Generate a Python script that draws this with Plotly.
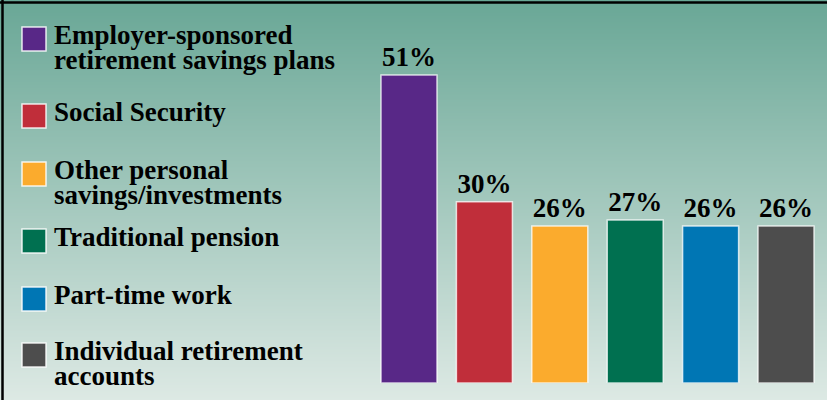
import plotly.graph_objects as go

# ---- data ----
categories = [
    "Employer-sponsored retirement savings plans",
    "Social Security",
    "Other personal savings/investments",
    "Traditional pension",
    "Part-time work",
    "Individual retirement accounts",
]
legend_lines = [
    ["Employer-sponsored", "retirement savings plans"],
    ["Social Security"],
    ["Other personal", "savings/investments"],
    ["Traditional pension"],
    ["Part-time work"],
    ["Individual retirement", "accounts"],
]
values = [51, 30, 26, 27, 26, 26]

# ---- style ----
colors = ["#582887", "#c02e3a", "#fbab2d", "#007050", "#0076b4", "#4d4d4d"]
W, H = 827, 400
FONT = "Liberation Serif"
FS = 27
legend_square_tops_px = [27, 104, 162, 229, 287, 343]
LINE_GAP = 25
SQ = 24


def px_x(x):
    return x / W


def px_y(y):
    return 1 - y / H


fig = go.Figure()

# background gradient (base subplot, drawn first)
fig.add_trace(go.Heatmap(
    x=[0, 1], y=[0, 1], z=[[0, 0], [1, 1]],
    colorscale=[[0, "#dde9e4"], [1, "#69a796"]],
    zsmooth="best", showscale=False, hoverinfo="skip",
    xaxis="x", yaxis="y",
))

fig.add_trace(go.Bar(
    x=list(range(len(categories))), y=values,
    marker=dict(color=colors, line=dict(color="rgba(255,255,255,0.75)", width=1.5)),
    text=[f"{v}%" for v in values],
    textposition="outside",
    textfont=dict(family=FONT, size=FS, color="black", weight="bold"),
    cliponaxis=False,
    xaxis="x2", yaxis="y2",
    hovertext=categories, hoverinfo="text",
))

shapes = []
annotations = []
for i, lines in enumerate(legend_lines):
    top = legend_square_tops_px[i]
    shapes.append(dict(
        type="rect", xref="paper", yref="paper",
        x0=px_x(22), x1=px_x(22 + SQ), y0=px_y(top + SQ), y1=px_y(top),
        fillcolor=colors[i], line=dict(color="rgba(255,255,255,0.85)", width=1.5),
    ))
    center = top + SQ / 2
    for j, line in enumerate(lines):
        annotations.append(dict(
            xref="paper", yref="paper", x=px_x(52), y=px_y(center - 4 + j * LINE_GAP),
            xanchor="left", yanchor="middle", showarrow=False, text=line,
            font=dict(family=FONT, size=FS, color="black", weight="bold"),
        ))

# border (top and left)
shapes.append(dict(type="line", xref="paper", yref="paper",
                   x0=0, x1=1, y0=px_y(2.5), y1=px_y(2.5),
                   line=dict(color="black", width=2.5)))
shapes.append(dict(type="line", xref="paper", yref="paper",
                   x0=px_x(2.5), x1=px_x(2.5), y0=0, y1=1,
                   line=dict(color="black", width=2.5)))

step = 75.4
x_start = 409 - step / 2
fig.update_layout(
    width=W, height=H,
    margin=dict(l=0, r=0, t=0, b=0),
    paper_bgcolor="#dde9e4",
    plot_bgcolor="rgba(0,0,0,0)",
    showlegend=False,
    xaxis=dict(domain=[0, 1], range=[0, 1], visible=False, fixedrange=True),
    yaxis=dict(domain=[0, 1], range=[0, 1], visible=False, fixedrange=True),
    xaxis2=dict(domain=[px_x(x_start), px_x(x_start + 6 * step)], range=[-0.5, 5.5],
                visible=False, anchor="y2"),
    yaxis2=dict(domain=[17 / H, 1], range=[0, 383 / 6.04], visible=False, anchor="x2"),
    bargap=1 - 56 / step,
    shapes=shapes,
    annotations=annotations,
)

fig.write_html(
    "out.html",
    config={"displayModeBar": False},
    post_script="document.body.style.margin='0';document.body.style.overflow='hidden';",
)
